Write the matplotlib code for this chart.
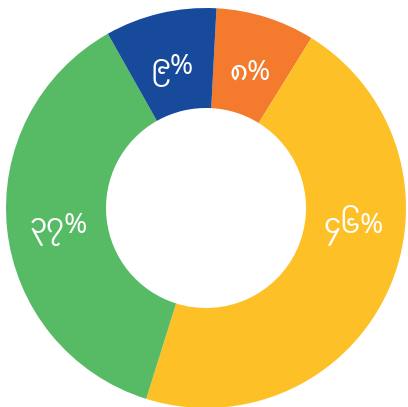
import numpy as np
import matplotlib
matplotlib.use("Agg")
import matplotlib.pyplot as plt

plt.rcParams['font.family'] = ['Noto Sans Myanmar', 'DejaVu Sans']

# data (clockwise from the top)
labels = ["၈%", "၄၆%", "၃၇%", "၉%"]
values = [8, 46, 37, 9]
colors = ["#F47B2D", "#FDC127", "#56BB64", "#174A9A"]
# nudges for label placement (degrees, counter-clockwise)
label_shift = [0, 20, 0, 0]

fig = plt.figure(figsize=(4.08, 4.07), dpi=100)
ax = fig.add_axes([0, 0, 1, 1])

wedges, _ = ax.pie(values, colors=colors, startangle=87, counterclock=False,
                   radius=1.0, wedgeprops=dict(width=0.5, linewidth=0))

for w, lab, sh in zip(wedges, labels, label_shift):
    mid = (w.theta1 + w.theta2) / 2 + sh
    r = 0.74
    x = r * np.cos(np.radians(mid))
    y = r * np.sin(np.radians(mid))
    ax.text(x, y - 0.03, lab, color="white", fontsize=20, ha="center", va="center")

ax.set_xlim(-1.03, 1.01)
ax.set_ylim(-0.995, 1.04)
ax.set_aspect("auto")
ax.axis("off")

fig.savefig("out.png", dpi=100)
